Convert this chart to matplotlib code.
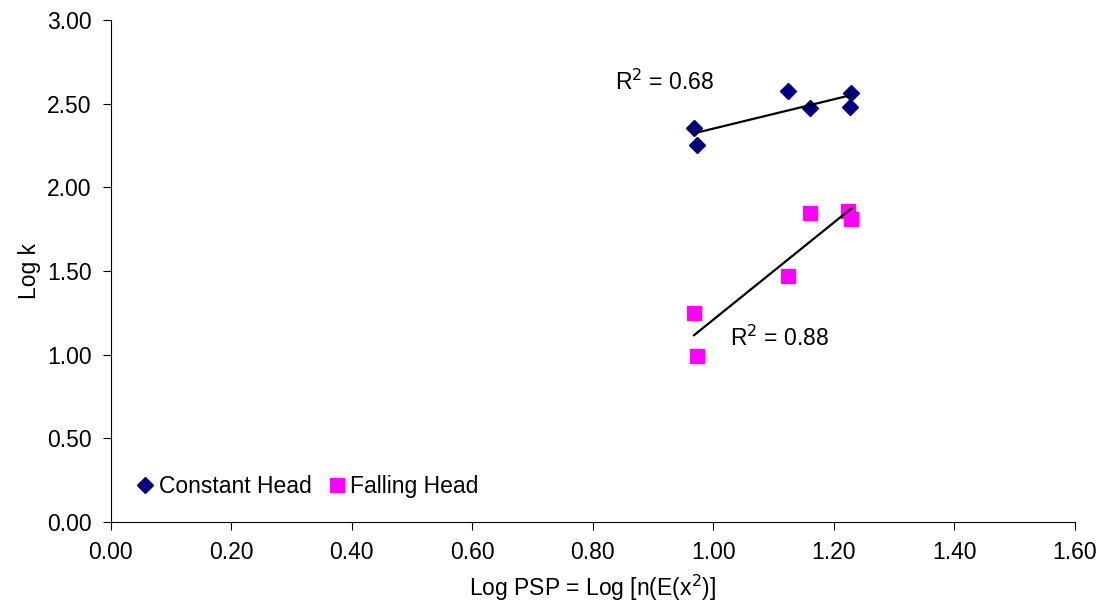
import numpy as np
import matplotlib.pyplot as plt

plt.rcParams['font.family'] = ['Liberation Sans', 'DejaVu Sans']

# Log PSP values (x) and Log k values (y)
x_const = [0.968, 0.973, 1.124, 1.161, 1.226, 1.229]
y_const = [2.355, 2.253, 2.576, 2.475, 2.481, 2.564]
x_fall = [0.968, 0.973, 1.124, 1.161, 1.224, 1.229]
y_fall = [1.249, 0.992, 1.470, 1.847, 1.859, 1.811]
r2_labels = ["R$^2$ = 0.68", "R$^2$ = 0.88"]

fig = plt.figure(figsize=(11.04, 6.08), dpi=100)
ax = fig.add_axes([0.1004, 0.1414, 0.8732, 0.8256])

ax.plot(x_const, y_const, linestyle='none', marker='D', markersize=8,
        color='#000080', label='Constant Head')
ax.plot(x_fall, y_fall, linestyle='none', marker='s', markersize=9.5,
        color='#ff00ff', label='Falling Head')

# linear trendlines
for xs, ys in [(x_const, y_const), (x_fall, y_fall)]:
    m, b = np.polyfit(xs, ys, 1)
    xx = np.array([min(xs), max(xs)])
    ax.plot(xx, m * xx + b, color='black', linewidth=1.6)

ax.text(0.837, 2.63, r2_labels[0], fontsize=16.5, va='center')
ax.text(1.028, 1.10, r2_labels[1], fontsize=16.5, va='center')

ax.set_xlim(0, 1.6)
ax.set_ylim(0, 3.0)
ax.set_xticks(np.arange(0, 1.61, 0.2))
ax.set_yticks(np.arange(0, 3.01, 0.5))
ax.xaxis.set_major_formatter(plt.FormatStrFormatter('%.2f'))
ax.yaxis.set_major_formatter(plt.FormatStrFormatter('%.2f'))
ax.tick_params(direction='out', length=6, labelsize=16.5, pad=8)
ax.spines['top'].set_visible(False)
ax.spines['right'].set_visible(False)
ax.set_xlabel('Log PSP = Log [n(E(x$^2$)]', fontsize=16.5, labelpad=6)
ax.set_ylabel('Log k', fontsize=16.5, labelpad=4)

ax.legend(loc='center left', bbox_to_anchor=(0.002, 0.07), ncol=2, frameon=False,
          fontsize=16.5, handletextpad=0.1, columnspacing=0.6, handlelength=1.0)

fig.savefig('out.png', dpi=100)
